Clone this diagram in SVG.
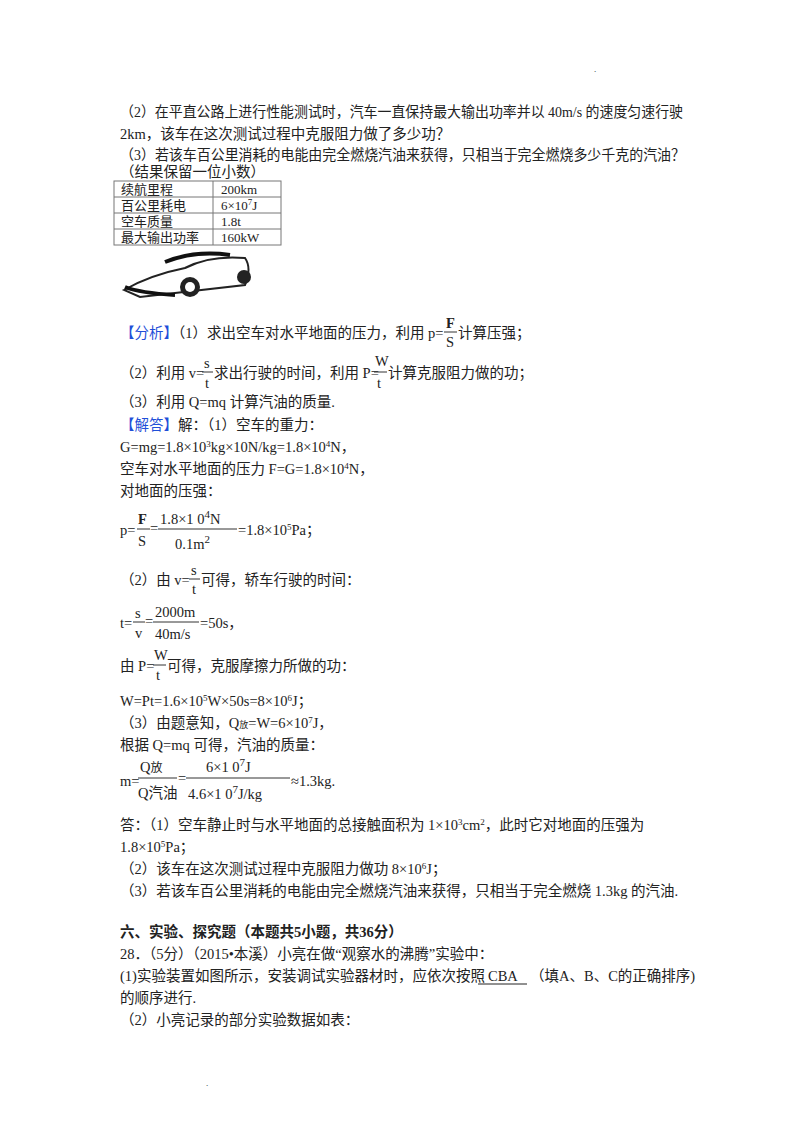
<svg xmlns="http://www.w3.org/2000/svg" width="800" height="1132" viewBox="0 0 800 1132">
<style>
text{font-family:"Liberation Serif","Noto Sans CJK SC",serif;font-size:14.5px;fill:#222}
.b{fill:#1f4fd8}
.s{font-size:9px}
.h{font-weight:bold}
.t{font-size:13px}
.fl{stroke:#333;stroke-width:1}
.tb{fill:none;stroke:#777;stroke-width:1}
</style>
<rect width="800" height="1132" fill="#fff"/>
<text x="594" y="72" class="s">.</text>
<g id="q">
<text x="120" y="117" textLength="563" lengthAdjust="spacingAndGlyphs">（2）在平直公路上进行性能测试时，汽车一直保持最大输出功率并以 40m/s 的速度匀速行驶</text>
<text x="120" y="139">2km，该车在这次测试过程中克服阻力做了多少功？</text>
<text x="120" y="160" textLength="565" lengthAdjust="spacingAndGlyphs">（3）若该车百公里消耗的电能由完全燃烧汽油来获得，只相当于完全燃烧多少千克的汽油？</text>
<text x="120" y="177">（结果保留一位小数）</text>
</g>
<g id="table">
<rect class="tb" x="114" y="181" width="167" height="64"/>
<line class="tb" x1="213" y1="181" x2="213" y2="245"/>
<line class="tb" x1="114" y1="197" x2="281" y2="197"/>
<line class="tb" x1="114" y1="213" x2="281" y2="213"/>
<line class="tb" x1="114" y1="229" x2="281" y2="229"/>
<text class="t" x="121" y="194">续航里程</text><text class="t" x="221" y="194">200km</text>
<text class="t" x="121" y="210">百公里耗电</text><text class="t" x="221" y="210">6×10<tspan class="s" dy="-5">7</tspan><tspan dy="5">J</tspan></text>
<text class="t" x="121" y="226">空车质量</text><text class="t" x="221" y="226">1.8t</text>
<text class="t" x="121" y="242">最大输出功率</text><text class="t" x="221" y="242">160kW</text>
</g>
<g id="car">
<path d="M124 290 Q150 275 185 268 Q210 255 245 258 Q252 268 245 285 L140 297 Z" fill="#fff" stroke="#222" stroke-width="2"/>
<path d="M165 262 Q195 250 230 255" fill="none" stroke="#111" stroke-width="4"/>
<path d="M125 287 Q140 293 175 295" fill="none" stroke="#111" stroke-width="4"/>
<circle cx="190" cy="287" r="10" fill="#222"/>
<circle cx="190" cy="287" r="5" fill="#fff"/>
<circle cx="244" cy="277" r="7" fill="#222"/>
</g>
<g id="analysis">
<text x="120" y="338"><tspan class="b">【分析】</tspan>（1）求出空车对水平地面的压力，利用 p=</text>
<text x="446" y="328" font-size="11" class="h">F</text><line class="fl" x1="444" y1="332" x2="457" y2="332"/><text x="446" y="347" font-size="13">S</text>
<text x="458" y="338">计算压强；</text>
<text x="120" y="378">（2）利用 v=</text><text x="204" y="368" font-size="13">s</text><line class="fl" x1="202" y1="372" x2="213" y2="372"/><text x="205" y="388" font-size="13">t</text>
<text x="214" y="378">求出行驶的时间，利用 P=</text><text x="375" y="366" font-size="12">W</text><line class="fl" x1="374" y1="372" x2="387" y2="372"/><text x="377" y="388" font-size="13">t</text>
<text x="388" y="378">计算克服阻力做的功；</text>
<text x="120" y="407">（3）利用 Q=mq 计算汽油的质量.</text>
<text x="120" y="430"><tspan class="b">【解答】</tspan>解：（1）空车的重力：</text>
<text x="120" y="452">G=mg=1.8×10<tspan class="s" dy="-5">3</tspan><tspan dy="5">kg×10N/kg=1.8×10</tspan><tspan class="s" dy="-5">4</tspan><tspan dy="5">N，</tspan></text>
<text x="120" y="474">空车对水平地面的压力 F=G=1.8×10<tspan class="s" dy="-5">4</tspan><tspan dy="5">N，</tspan></text>
<text x="120" y="496">对地面的压强：</text>
<text x="120" y="535">p=</text>
<text x="138" y="524" font-size="13" class="h">F</text><line class="fl" x1="137" y1="529" x2="150" y2="529"/><text x="138" y="546" font-size="13">S</text>
<text x="150" y="533">=</text>
<text x="160" y="524" font-size="15">1.8×1 0<tspan dy="-6" font-size="11">4</tspan><tspan dy="6">N</tspan></text>
<line class="fl" x1="158" y1="529" x2="237" y2="529"/>
<text x="175" y="549" font-size="15">0.1m<tspan dy="-6" font-size="11">2</tspan></text>
<text x="238" y="535">=1.8×10<tspan class="s" dy="-5">5</tspan><tspan dy="5">Pa；</tspan></text>
</g>
<g id="solution">
<text x="120" y="585">（2）由 v=</text><text x="191" y="575" font-size="13">s</text><line class="fl" x1="189" y1="579" x2="200" y2="579"/><text x="192" y="594" font-size="13">t</text>
<text x="201" y="585">可得，轿车行驶的时间：</text>
<text x="120" y="628">t=</text>
<text x="135" y="618" font-size="13">s</text><line class="fl" x1="133" y1="622" x2="145" y2="622"/><text x="135" y="638" font-size="13">v</text>
<text x="145" y="626">=</text>
<text x="155" y="617" font-size="15">2000m</text><line class="fl" x1="153" y1="622" x2="199" y2="622"/><text x="155" y="639" font-size="15">40m/s</text>
<text x="200" y="628">=50s，</text>
<text x="120" y="671">由 P=</text><text x="154" y="660" font-size="12">W</text><line class="fl" x1="153" y1="665" x2="166" y2="665"/><text x="156" y="680" font-size="13">t</text>
<text x="167" y="671">可得，克服摩擦力所做的功：</text>
<text x="120" y="706">W=Pt=1.6×10<tspan class="s" dy="-5">5</tspan><tspan dy="5">W×50s=8×10</tspan><tspan class="s" dy="-5">6</tspan><tspan dy="5">J；</tspan></text>
<text x="120" y="728">（3）由题意知，Q<tspan class="s">放</tspan>=W=6×10<tspan class="s" dy="-5">7</tspan><tspan dy="5">J，</tspan></text>
<text x="120" y="750">根据 Q=mq 可得，汽油的质量：</text>
<text x="120" y="786">m=</text>
<text x="140" y="772" font-size="13">Q<tspan font-size="12">放</tspan></text>
<line class="fl" x1="138" y1="778" x2="177" y2="778"/>
<text x="138" y="798" font-size="12">Q汽油</text>
<text x="178" y="783">=</text>
<text x="206" y="772" font-size="15">6×1 0<tspan dy="-6" font-size="11">7</tspan><tspan dy="6">J</tspan></text>
<line class="fl" x1="186" y1="778" x2="290" y2="778"/>
<text x="188" y="799" font-size="15">4.6×1 0<tspan dy="-6" font-size="11">7</tspan><tspan dy="6">J/kg</tspan></text>
<text x="291" y="786">≈1.3kg.</text>
<text x="120" y="830">答：（1）空车静止时与水平地面的总接触面积为 1×10<tspan class="s" dy="-5">3</tspan><tspan dy="5">cm</tspan><tspan class="s" dy="-5">2</tspan><tspan dy="5">，此时它对地面的压强为</tspan></text>
<text x="120" y="852">1.8×10<tspan class="s" dy="-5">5</tspan><tspan dy="5">Pa；</tspan></text>
<text x="120" y="874">（2）该车在这次测试过程中克服阻力做功 8×10<tspan class="s" dy="-5">6</tspan><tspan dy="5">J；</tspan></text>
<text x="120" y="896">（3）若该车百公里消耗的电能由完全燃烧汽油来获得，只相当于完全燃烧 1.3kg 的汽油.</text>
</g>
<g id="section6">
<text x="120" y="937" class="h">六、实验、探究题（本题共5小题，共36分）</text>
<text x="120" y="959">28．（5分）（2015•本溪）小亮在做“观察水的沸腾”实验中：</text>
<text x="120" y="981">(1)实验装置如图所示，安装调试实验器材时，应依次按照</text>
<text x="488" y="981">CBA</text>
<line x1="478" y1="984" x2="527" y2="984" stroke="#222" stroke-width="1"/>
<text x="530" y="981">（填A、B、C的正确排序)</text>
<text x="120" y="1003">的顺序进行.</text>
<text x="120" y="1025">（2）小亮记录的部分实验数据如表：</text>
<text x="206" y="1086" class="s">.</text>
</g>
</svg>
